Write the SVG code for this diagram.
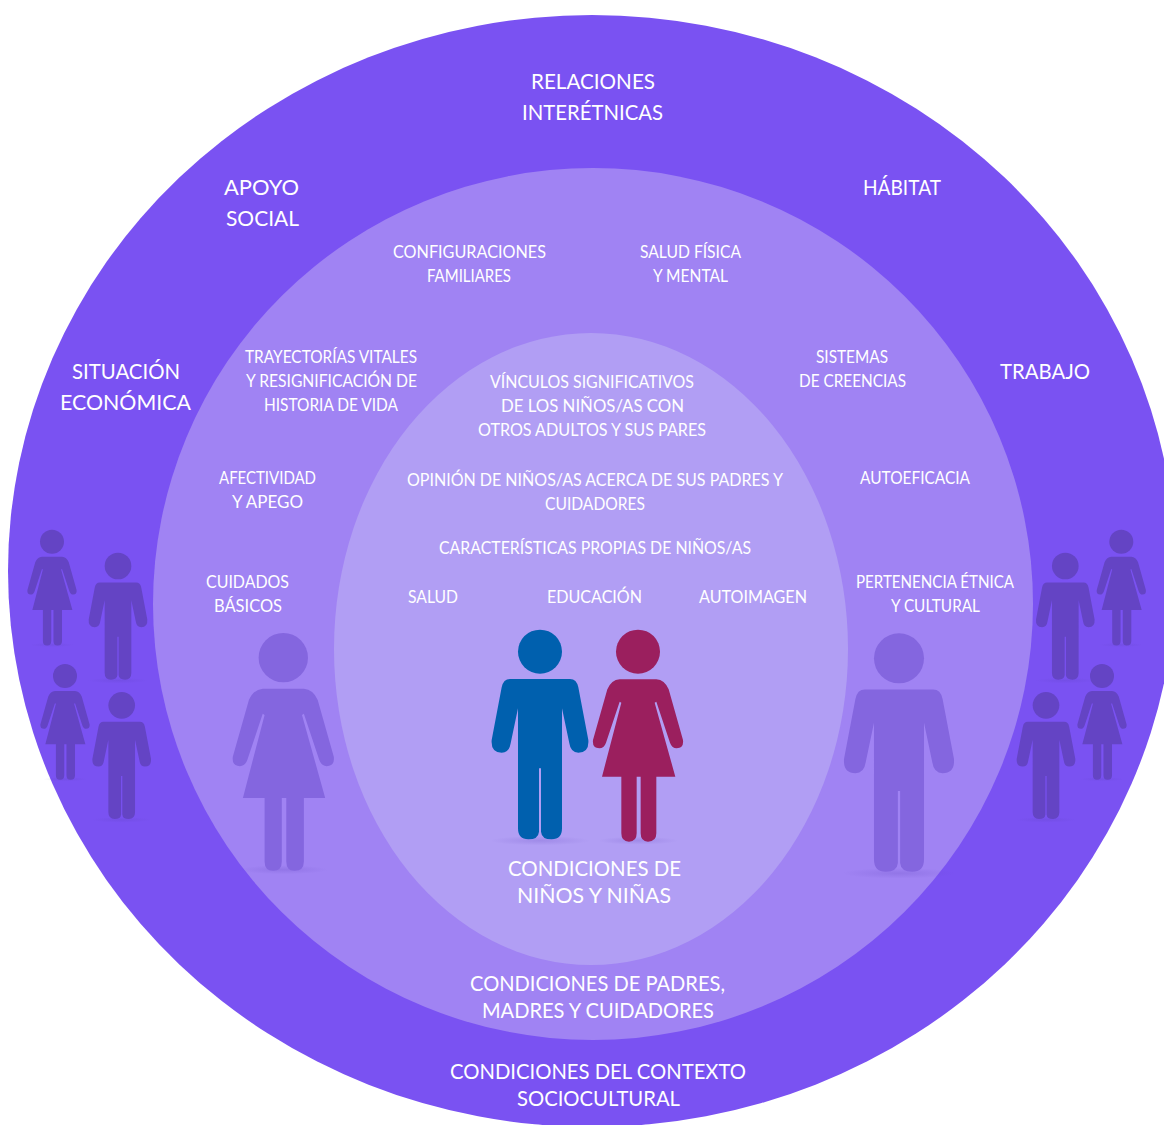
<svg xmlns="http://www.w3.org/2000/svg" width="1164" height="1125" viewBox="0 0 1164 1125">
<style>
text{font-family:"Lato","Liberation Sans",sans-serif;fill:#fff;text-anchor:middle;}
.s{font-size:17.5px;}
.l{font-size:21px;}
.small{fill:#6444C4;}
.big{fill:#8466DF;}
</style>
<defs>
<radialGradient id="sh"><stop offset="0" stop-color="#5a3fb8" stop-opacity=".2"/><stop offset="1" stop-color="#5a3fb8" stop-opacity="0"/></radialGradient>
<g id="man"><ellipse cx="0" cy="722" rx="150" ry="14" fill="url(#sh)"/><circle cx="0" cy="155" r="66"/><path d="M-90,237H90Q110,237 115,262L145,420Q148,458 115,458Q92,458 88,430L66,325V685Q66,718 35,718Q5,718 3,695V505H-3V695Q-5,718-35,718Q-66,718-66,685V325L-88,430Q-92,458-115,458Q-148,458-145,420L-115,262Q-110,237-90,237Z"/></g>
<g id="woman"><ellipse cx="0" cy="722" rx="120" ry="12" fill="url(#sh)"/><circle cx="0" cy="155" r="66"/><path d="M-55,238H55Q80,240 92,268L135,420Q138,445 116,445Q102,445 96,428L55,305L50,308L112,530H55V700Q55,725 30,725Q8,725 8,700V530H-4V700Q-4,725-27,725Q-50,725-50,700V530H-108L-50,308L-55,305L-96,428Q-102,445-116,445Q-138,445-135,420L-92,268Q-80,240-55,238Z"/></g>
</defs>
<rect width="1164" height="1125" fill="#fff"/>
<g id="rings">
<ellipse id="ring-outer" cx="592" cy="571" rx="584" ry="556" fill="#7A52F2"/>
<ellipse id="ring-middle" cx="593" cy="604" rx="440" ry="436" fill="#A083F3"/>
<ellipse id="ring-inner" cx="591" cy="649" rx="257" ry="316" fill="#B19EF4"/>
</g>
<g id="people-context" class="small">
<use href="#woman" transform="translate(52,513.5) scale(.182)"/>
<use href="#man" transform="translate(118,534.7) scale(.202)"/>
<use href="#woman" transform="translate(65,647.8) scale(.182)"/>
<use href="#man" transform="translate(121.7,674) scale(.202)"/>
<use href="#woman" transform="translate(1121.3,513.5) scale(.182)"/>
<use href="#man" transform="translate(1065.3,534.7) scale(.202)"/>
<use href="#woman" transform="translate(1102,647.8) scale(.182)"/>
<use href="#man" transform="translate(1046,674) scale(.202)"/>
</g>
<g id="people-parents" class="big">
<use href="#woman" transform="translate(283.3,599.7) scale(.374)"/>
<use href="#man" transform="translate(899,599.6) scale(.379)"/>
</g>
<g id="people-children">
<use href="#man" fill="#0060AE" transform="translate(540,600) scale(.3333)"/>
<use href="#woman" fill="#9B1F5E" transform="translate(638,600) scale(.3333)"/>
</g>
<g id="labels-context" class="l">
<text x="593" y="89" textLength="124" lengthAdjust="spacingAndGlyphs">RELACIONES</text>
<text x="592.500" y="120" textLength="141" lengthAdjust="spacingAndGlyphs">INTERÉTNICAS</text>
<text x="261.500" y="195" textLength="75" lengthAdjust="spacingAndGlyphs">APOYO</text>
<text x="262.500" y="226" textLength="73" lengthAdjust="spacingAndGlyphs">SOCIAL</text>
<text x="902" y="195" textLength="78" lengthAdjust="spacingAndGlyphs">HÁBITAT</text>
<text x="126" y="379" textLength="108" lengthAdjust="spacingAndGlyphs">SITUACIÓN</text>
<text x="125.500" y="410" textLength="131" lengthAdjust="spacingAndGlyphs">ECONÓMICA</text>
<text x="1045" y="379" textLength="90" lengthAdjust="spacingAndGlyphs">TRABAJO</text>
<text x="598" y="1079" textLength="296" lengthAdjust="spacingAndGlyphs">CONDICIONES DEL CONTEXTO</text>
<text x="598.500" y="1106" textLength="163" lengthAdjust="spacingAndGlyphs">SOCIOCULTURAL</text>
</g>
<g id="labels-parents">
<text class="l" x="597.500" y="991" textLength="255" lengthAdjust="spacingAndGlyphs">CONDICIONES DE PADRES,</text>
<text class="l" x="598" y="1018" textLength="232" lengthAdjust="spacingAndGlyphs">MADRES Y CUIDADORES</text>
<g class="s" transform="translate(0,1)">
<text x="469.500" y="257" textLength="153" lengthAdjust="spacingAndGlyphs">CONFIGURACIONES</text>
<text x="469" y="281" textLength="84" lengthAdjust="spacingAndGlyphs">FAMILIARES</text>
<text x="690.500" y="257" textLength="101" lengthAdjust="spacingAndGlyphs">SALUD FÍSICA</text>
<text x="690.500" y="281" textLength="75" lengthAdjust="spacingAndGlyphs">Y MENTAL</text>
<text x="331" y="362" textLength="172" lengthAdjust="spacingAndGlyphs">TRAYECTORÍAS VITALES</text>
<text x="331.500" y="386" textLength="171" lengthAdjust="spacingAndGlyphs">Y RESIGNIFICACIÓN DE</text>
<text x="331" y="410" textLength="134" lengthAdjust="spacingAndGlyphs">HISTORIA DE VIDA</text>
<text x="852" y="362" textLength="72" lengthAdjust="spacingAndGlyphs">SISTEMAS</text>
<text x="852.500" y="386" textLength="107" lengthAdjust="spacingAndGlyphs">DE CREENCIAS</text>
<text x="267.500" y="483" textLength="97" lengthAdjust="spacingAndGlyphs">AFECTIVIDAD</text>
<text x="267.500" y="507" textLength="71" lengthAdjust="spacingAndGlyphs">Y APEGO</text>
<text x="915" y="483" textLength="110" lengthAdjust="spacingAndGlyphs">AUTOEFICACIA</text>
<text x="247.500" y="587" textLength="83" lengthAdjust="spacingAndGlyphs">CUIDADOS</text>
<text x="248" y="611" textLength="68" lengthAdjust="spacingAndGlyphs">BÁSICOS</text>
<text x="935" y="587" textLength="158" lengthAdjust="spacingAndGlyphs">PERTENENCIA ÉTNICA</text>
<text x="935.500" y="611" textLength="89" lengthAdjust="spacingAndGlyphs">Y CULTURAL</text>
</g>
</g>
<g id="labels-children">
<g class="s" transform="translate(0,1)">
<text x="592" y="387" textLength="204" lengthAdjust="spacingAndGlyphs">VÍNCULOS SIGNIFICATIVOS</text>
<text x="592.500" y="411" textLength="183" lengthAdjust="spacingAndGlyphs">DE LOS NIÑOS/AS CON</text>
<text x="592" y="435" textLength="228" lengthAdjust="spacingAndGlyphs">OTROS ADULTOS Y SUS PARES</text>
<text x="595" y="485" textLength="376" lengthAdjust="spacingAndGlyphs">OPINIÓN DE NIÑOS/AS ACERCA DE SUS PADRES Y</text>
<text x="595" y="509" textLength="100" lengthAdjust="spacingAndGlyphs">CUIDADORES</text>
<text x="595" y="553" textLength="312" lengthAdjust="spacingAndGlyphs">CARACTERÍSTICAS PROPIAS DE NIÑOS/AS</text>
<text x="433" y="602" textLength="50" lengthAdjust="spacingAndGlyphs">SALUD</text>
<text x="594.500" y="602" textLength="95" lengthAdjust="spacingAndGlyphs">EDUCACIÓN</text>
<text x="753" y="602" textLength="108" lengthAdjust="spacingAndGlyphs">AUTOIMAGEN</text>
</g>
<text class="l" x="594.500" y="876" textLength="173" lengthAdjust="spacingAndGlyphs">CONDICIONES DE</text>
<text class="l" x="594" y="903" textLength="154" lengthAdjust="spacingAndGlyphs">NIÑOS Y NIÑAS</text>
</g>
</svg>
